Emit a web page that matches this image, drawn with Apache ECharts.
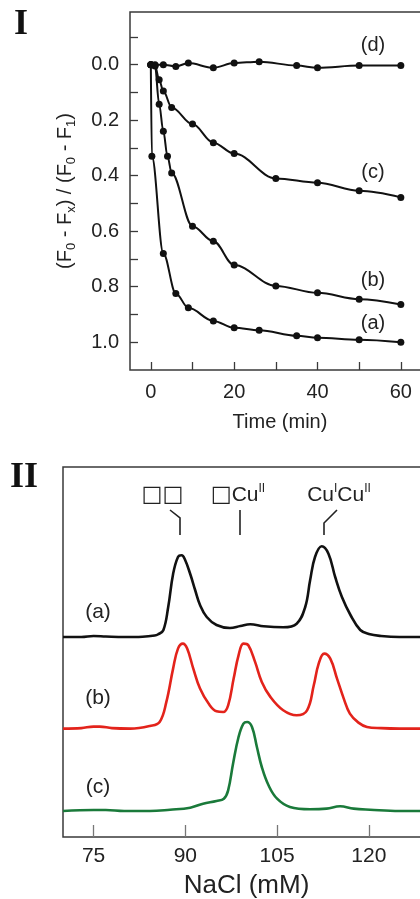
<!DOCTYPE html>
<html>
<head>
<meta charset="utf-8">
<script src="https://cdn.jsdelivr.net/npm/echarts@6/dist/echarts.min.js"></script>
<style>
  html, body { margin: 0; padding: 0; background: #fff; }
  #chart { width: 420px; height: 899px; }
</style>
</head>
<body>
<div id="chart"></div>
<script>
// ---- Panel I : (F0 - Fx) / (F0 - F1) vs time ----
var timeA = [0, 0.25, 3, 6, 9, 15, 20, 26, 35, 40, 50, 60];
var valA  = [0, 0.33, 0.68, 0.824, 0.876, 0.923, 0.948, 0.957, 0.977, 0.984, 0.991, 1.0];
var timeB = [0, 1, 2, 3, 4, 5, 10, 15, 20, 30, 40, 50, 60];
var valB  = [0, 0.005, 0.142, 0.24, 0.33, 0.39, 0.582, 0.636, 0.722, 0.797, 0.822, 0.845, 0.864];
var timeC = [0, 1, 2, 3, 5, 10, 15, 20, 30, 40, 50, 60];
var valC  = [0, 0.003, 0.054, 0.095, 0.154, 0.214, 0.281, 0.32, 0.41, 0.425, 0.454, 0.478];
var timeD = [0, 1, 3, 6, 9, 15, 20, 26, 35, 40, 50, 60];
var valD  = [0, 0, 0, 0.006, -0.006, 0.011, -0.006, -0.011, 0.003, 0.011, 0.003, 0.003];

var timeTicks  = [0, 10, 20, 30, 40, 50, 60];
var timeLabels = [0, 20, 40, 60];
var ratioTicks  = [-0.1, 0, 0.1, 0.2, 0.3, 0.4, 0.5, 0.6, 0.7, 0.8, 0.9, 1.0];
var ratioLabels = [0, 0.2, 0.4, 0.6, 0.8, 1.0];

// ---- Panel II : elution profiles vs NaCl (traces offset vertically) ----
var naclA = [70, 73, 75, 77, 80, 83, 85, 85.5, 86.4, 87.2, 88.0, 88.8, 89.4, 89.9, 90.8, 91.6, 92.4, 93.5, 95.1, 97.3, 99, 100.6, 102.8, 106.0, 108.2, 109.6, 110.4, 111.2, 112.3, 113.4, 114.5, 115.6, 117.0, 118.6, 120, 122, 125, 130];
var sigA  = [0, 0, 1, 0.5, 0, 0.3, 1.5, 2.5, 6.7, 30, 63, 80, 81.7, 78, 63, 47, 32, 20, 12, 9, 11, 12.7, 10.7, 9.7, 13.3, 30, 56.7, 80, 90.7, 83.3, 60, 40, 22, 7, 3, 1, 0, 0];
var naclB = [70, 73, 75, 76, 78, 81, 84.2, 85.8, 86.9, 88.0, 88.8, 89.6, 90.3, 91.3, 92.4, 93.8, 95.1, 96.2, 97.0, 97.9, 98.7, 99.5, 100.3, 101.4, 102.5, 103.9, 106.0, 108.2, 109.9, 111.0, 111.8, 112.7, 113.7, 114.8, 115.9, 116.9, 118.3, 119.7, 122, 125, 130];
var sigB  = [0, 0.5, 2, 2, 0.5, 0, 2.7, 6.7, 26.7, 60, 80, 85, 80, 60, 40, 25, 17.3, 16.6, 23.3, 50, 73.3, 85, 83.3, 66.7, 46.7, 31.7, 18.3, 13.3, 18.3, 43.3, 65, 75, 70, 50, 30, 15, 6, 1.7, 0.5, 0, 0];
var naclC = [70, 75, 77, 80, 84.2, 87.5, 90.8, 92.9, 95.1, 96.3, 97.0, 97.8, 98.7, 99.5, 100.1, 100.9, 101.7, 102.5, 103.6, 105.0, 107.1, 110.4, 113.1, 115.3, 117.5, 120.2, 125, 130];
var sigC  = [0, 1, 1, 0, 0, 1.3, 3.3, 7.3, 10, 12.3, 20.7, 47.3, 74, 87.3, 89, 84, 64, 44, 25.7, 12.3, 4, 1.7, 2.4, 4.7, 2.4, 1.3, 0, 0];
var offsetA = 200, offsetB = 108.4, offsetC = 26;
var naclTicks = [75, 90, 105, 120];

var SANS = "'Liberation Sans', Arial, Helvetica, sans-serif";
var FRAME = '#3a3a3a';

function pairs(xs, ys, off) {
  return xs.map(function (x, i) { return [x, ys[i] + (off || 0)]; });
}

function kinetic(name, xs, ys) {
  return {
    name: name, type: 'line', xAxisIndex: 0, yAxisIndex: 0,
    data: pairs(xs, ys),
    smooth: 0.35, smoothMonotone: 'x',
    symbol: 'circle', symbolSize: 7,
    itemStyle: { color: '#111' },
    lineStyle: { color: '#111', width: 2 },
    z: 3
  };
}

function trace(name, xs, ys, off, color) {
  return {
    name: name, type: 'line', xAxisIndex: 1, yAxisIndex: 1,
    data: pairs(xs, ys, off),
    smooth: 0.4, showSymbol: false,
    lineStyle: { color: color, width: 2.6 },
    z: 3
  };
}

var richSup = {
  q: { fontFamily: "'DejaVu Sans', sans-serif", fontSize: 22, lineHeight: 24, fill: '#222' },
  n: { fontFamily: SANS, fontSize: 21, lineHeight: 24, fill: '#222' },
  p: { fontFamily: SANS, fontSize: 12, lineHeight: 12, verticalAlign: 'top', fill: '#222' }
};

var chart = echarts.init(document.getElementById('chart'), null, { renderer: 'canvas' });

var option = {
  backgroundColor: '#fff',
  animation: false,
  grid: [
    { left: 130, top: 12, width: 300, height: 358, outerBoundsMode: 'none', show: true, borderColor: FRAME, borderWidth: 1.5 },
    { left: 63, top: 467, width: 367, height: 370, outerBoundsMode: 'none', show: true, borderColor: FRAME, borderWidth: 1.5 }
  ],
  xAxis: [
    {
      gridIndex: 0, type: 'value', min: -5, max: 67,
      name: 'Time (min)', nameLocation: 'middle', nameGap: 42,
      nameTextStyle: { fontFamily: SANS, fontSize: 20, color: '#222' },
      axisLine: { show: false, onZero: false },
      axisTick: { inside: true, length: 8, customValues: timeTicks, lineStyle: { color: FRAME, width: 1.3 } },
      axisLabel: { customValues: timeLabels, margin: 12, fontFamily: SANS, fontSize: 20, color: '#222' },
      splitLine: { show: false }
    },
    {
      gridIndex: 1, type: 'value', min: 70, max: 130,
      name: 'NaCl (mM)', nameLocation: 'middle', nameGap: 36,
      nameTextStyle: { fontFamily: SANS, fontSize: 26, color: '#222' },
      axisLine: { show: false, onZero: false },
      axisTick: { inside: true, length: 12, customValues: naclTicks, lineStyle: { color: '#777', width: 1.3 } },
      axisLabel: { customValues: naclTicks, margin: 9, fontFamily: SANS, fontSize: 21, color: '#222' },
      splitLine: { show: false }
    }
  ],
  yAxis: [
    {
      gridIndex: 0, type: 'value', inverse: true, min: -0.19, max: 1.1,
      name: '{n|(F}{s|0}{n| - F}{s|x}{n|) / (F}{s|0}{n| - F}{s|1}{n|)}',
      nameLocation: 'middle', nameRotate: 90, nameGap: 52,
      nameTextStyle: {
        fontFamily: SANS, color: '#222',
        rich: {
          n: { fontFamily: SANS, fontSize: 20, lineHeight: 26, color: '#222' },
          s: { fontFamily: SANS, fontSize: 13, lineHeight: 13, verticalAlign: 'bottom', color: '#222' }
        }
      },
      axisLine: { show: false, onZero: false },
      axisTick: { inside: true, length: 8, customValues: ratioTicks, lineStyle: { color: FRAME, width: 1.3 } },
      axisLabel: {
        customValues: ratioLabels, margin: 11, fontFamily: SANS, fontSize: 20, color: '#222',
        formatter: function (v) { return v.toFixed(1); }
      },
      splitLine: { show: false }
    },
    {
      gridIndex: 1, type: 'value', min: 0, max: 370,
      axisLine: { show: false, onZero: false }, axisTick: { show: false }, axisLabel: { show: false },
      splitLine: { show: false }
    }
  ],
  series: [
    kinetic('a', timeA, valA),
    kinetic('b', timeB, valB),
    kinetic('c', timeC, valC),
    kinetic('d', timeD, valD),
    trace('a', naclA, sigA, offsetA, '#111111'),
    trace('b', naclB, sigB, offsetB, '#e3231b'),
    trace('c', naclC, sigC, offsetC, '#1a7a3a')
  ],
  graphic: [
    // panel letters
    { type: 'text', x: 21, y: 25, style: { text: 'I', font: "bold 36px 'Liberation Serif', serif", fill: '#111', align: 'center', verticalAlign: 'middle' } },
    { type: 'text', x: 24, y: 478, style: { text: 'II', font: "bold 36px 'Liberation Serif', serif", fill: '#111', align: 'center', verticalAlign: 'middle' } },
    // panel I curve labels
    { type: 'text', x: 373, y: 45, style: { text: '(d)', font: '20px ' + SANS, fill: '#222', align: 'center', verticalAlign: 'middle' } },
    { type: 'text', x: 373, y: 172, style: { text: '(c)', font: '20px ' + SANS, fill: '#222', align: 'center', verticalAlign: 'middle' } },
    { type: 'text', x: 373, y: 280, style: { text: '(b)', font: '20px ' + SANS, fill: '#222', align: 'center', verticalAlign: 'middle' } },
    { type: 'text', x: 373, y: 323, style: { text: '(a)', font: '20px ' + SANS, fill: '#222', align: 'center', verticalAlign: 'middle' } },
    // panel II trace labels
    { type: 'text', x: 98, y: 612, style: { text: '(a)', font: '21px ' + SANS, fill: '#222', align: 'center', verticalAlign: 'middle' } },
    { type: 'text', x: 98, y: 698, style: { text: '(b)', font: '21px ' + SANS, fill: '#222', align: 'center', verticalAlign: 'middle' } },
    { type: 'text', x: 98, y: 787, style: { text: '(c)', font: '21px ' + SANS, fill: '#222', align: 'center', verticalAlign: 'middle' } },
    // species annotations
    { type: 'text', x: 152, y: 495, style: { text: '\u25A1', font: "22px 'DejaVu Sans', sans-serif", fill: '#222', align: 'center', verticalAlign: 'middle' } },
    { type: 'text', x: 173, y: 495, style: { text: '\u25A1', font: "22px 'DejaVu Sans', sans-serif", fill: '#222', align: 'center', verticalAlign: 'middle' } },
    { type: 'text', x: 238, y: 495, style: { text: '{q|\u25A1}{n|Cu}{p|II}', align: 'center', verticalAlign: 'middle', rich: richSup } },
    { type: 'text', x: 339, y: 495, style: { text: '{n|Cu}{p|I}{n|Cu}{p|II}', align: 'center', verticalAlign: 'middle', rich: richSup } },
    // leader lines
    { type: 'polyline', shape: { points: [[170, 510], [180, 518], [180, 535]] }, style: { stroke: '#222', lineWidth: 1.6, fill: null } },
    { type: 'polyline', shape: { points: [[240, 510], [240, 535]] }, style: { stroke: '#222', lineWidth: 1.6, fill: null } },
    { type: 'polyline', shape: { points: [[337, 510], [324, 523], [324, 535]] }, style: { stroke: '#222', lineWidth: 1.6, fill: null } }
  ]
};

chart.setOption(option);
</script>
</body>
</html>
